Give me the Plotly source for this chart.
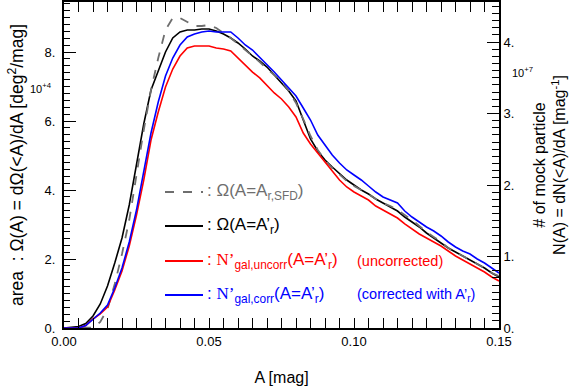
import plotly.graph_objects as go

# ---------------- data ----------------
A = [0.0, 0.0025, 0.005, 0.0075, 0.01, 0.0125, 0.015, 0.0175, 0.02, 0.0225,
     0.025, 0.0275, 0.03, 0.0325, 0.035, 0.0375, 0.04, 0.0425, 0.045, 0.0475,
     0.05, 0.0525, 0.055, 0.0575, 0.06, 0.0625, 0.065, 0.0675, 0.07, 0.0725,
     0.075, 0.0775, 0.08, 0.0825, 0.085, 0.0875, 0.09, 0.0925, 0.095, 0.0975,
     0.1, 0.1025, 0.105, 0.1075, 0.11, 0.1125, 0.115, 0.1175, 0.12, 0.1225,
     0.125, 0.1275, 0.13, 0.1325, 0.135, 0.1375, 0.14, 0.1425, 0.145, 0.1475, 0.15]

# area Omega(A = A_r,SFD)  [1e4 deg^2/mag]
omega_sfd = [0, 0, 0, 0, 0.014, 0.174, 0.551, 1.275, 2.145, 3.130,
             4.464, 5.739, 6.899, 7.826, 8.638, 8.986, 8.986, 8.870, 8.754, 8.754,
             8.783, 8.696, 8.551, 8.406, 8.232, 8.058, 7.884, 7.710, 7.507, 7.333,
             7.159, 6.870, 6.522, 6.058, 5.565, 5.159, 4.870, 4.638, 4.435, 4.261,
             4.116, 4.0, 3.884, 3.739, 3.623, 3.536, 3.420, 3.275, 3.130, 2.957,
             2.783, 2.638, 2.493, 2.319, 2.203, 2.087, 1.971, 1.855, 1.739, 1.594, 1.507]

# area Omega(A = A'_r)  [1e4 deg^2/mag]
omega_r = [0, 0.014, 0.043, 0.130, 0.348, 0.696, 1.217, 1.884, 2.609, 3.565,
           4.725, 5.913, 6.899, 7.478, 8.0, 8.406, 8.580, 8.638, 8.638, 8.667,
           8.667, 8.609, 8.522, 8.406, 8.261, 8.087, 7.884, 7.739, 7.565, 7.333,
           7.101, 6.870, 6.580, 6.0, 5.478, 5.130, 4.870, 4.667, 4.464, 4.290,
           4.145, 4.0, 3.884, 3.739, 3.623, 3.507, 3.391, 3.217, 3.072, 2.928,
           2.754, 2.609, 2.464, 2.319, 2.203, 2.087, 1.971, 1.855, 1.739, 1.594, 1.478]

# N'gal,uncorr(A = A'_r)  [1e7 /mag]
n_uncorr = [0, 0, 0, 0.035, 0.126, 0.196, 0.294, 0.531, 0.797, 1.147,
            1.580, 2.070, 2.629, 3.021, 3.371, 3.622, 3.804, 3.916, 3.944, 3.944,
            3.944, 3.916, 3.902, 3.874, 3.776, 3.664, 3.580, 3.497, 3.385, 3.287,
            3.203, 3.091, 2.951, 2.727, 2.573, 2.448, 2.308, 2.182, 2.070, 1.972,
            1.902, 1.846, 1.790, 1.706, 1.650, 1.594, 1.538, 1.455, 1.385, 1.315,
            1.259, 1.203, 1.147, 1.077, 1.007, 0.951, 0.895, 0.839, 0.783, 0.713, 0.657]

# N'gal,corr(A = A'_r)  [1e7 /mag]
n_corr = [0, 0, 0, 0.035, 0.126, 0.210, 0.322, 0.559, 0.839, 1.203,
          1.650, 2.168, 2.727, 3.161, 3.524, 3.776, 3.958, 4.070, 4.112, 4.140,
          4.154, 4.140, 4.140, 4.140, 4.056, 3.958, 3.888, 3.790, 3.692, 3.580,
          3.469, 3.357, 3.245, 3.077, 2.909, 2.699, 2.559, 2.420, 2.308, 2.210,
          2.140, 2.070, 1.986, 1.902, 1.832, 1.790, 1.748, 1.636, 1.552, 1.483,
          1.413, 1.357, 1.287, 1.203, 1.133, 1.077, 1.035, 0.965, 0.909, 0.839, 0.769]

# tick labels
x_tickvals = [0.0, 0.05, 0.10, 0.15]
x_ticktext = ["0.00", "0.05", "0.10", "0.15"]
x_midticks = [0.01, 0.02, 0.03, 0.04, 0.06, 0.07, 0.08, 0.09,
              0.11, 0.12, 0.13, 0.14]
yl_tickvals = [0, 2, 4, 6, 8]
yl_ticktext = ["0.", "2.", "4.", "6.", "8."]
yl_midticks = [1, 3, 5, 7, 9]
yr_tickvals = [0, 1, 2, 3, 4]
yr_ticktext = ["0.", "1.", "2.", "3.", "4."]
yr_midticks = [0.5, 1.5, 2.5, 3.5, 4.5]

# ---------------- figure ----------------
FONT = "Liberation Sans, Arial, sans-serif"
SERIF = "Liberation Serif, Times New Roman, serif"
GRAY = "#6e6e6e"
W, H = 580, 388
L, R, T, B = 64, 81, 2, 60
PW, PH = W - L - R, H - T - B
YL_MAX = PH / 34.5
YR_MAX = PH / 71.5


def px(x):
    return (x - L) / PW


def py(y):
    return (H - B - y) / PH


fig = go.Figure()
fig.add_trace(go.Scatter(x=A, y=omega_r, mode="lines", name="Omega(A=A'r)",
                         line=dict(color="black", width=1.6), yaxis="y"))
fig.add_trace(go.Scatter(x=A, y=n_uncorr, mode="lines", name="N'gal,uncorr",
                         line=dict(color="#ff0000", width=1.6), yaxis="y2"))
fig.add_trace(go.Scatter(x=A, y=n_corr, mode="lines", name="N'gal,corr",
                         line=dict(color="#0000ff", width=1.6), yaxis="y2"))
fig.add_trace(go.Scatter(x=A, y=omega_sfd, mode="lines", name="Omega(A=Ar,SFD)",
                         line=dict(color=GRAY, width=1.8, dash="dash"), yaxis="y"))

common = dict(showgrid=False, zeroline=False, showline=True, linecolor="black",
              linewidth=2, ticks="inside", tickcolor="black", tickwidth=1,
              tickmode="array", automargin=False,
              tickfont=dict(family=FONT, size=13, color="black"))
mid = dict(showgrid=False, zeroline=False, showline=False, ticks="inside",
           tickcolor="black", tickwidth=1, tickmode="array",
           showticklabels=False, automargin=False)

fig.update_layout(
    width=W, height=H, margin=dict(l=L, r=R, t=T, b=B),
    paper_bgcolor="white", plot_bgcolor="white", showlegend=False,
    font=dict(family=FONT, color="black"),
    xaxis=dict(range=[0, 0.15], tickvals=x_tickvals, ticktext=x_ticktext,
               ticklen=10, mirror="allticks",
               minor=dict(tick0=0, dtick=0.005, ticklen=5, ticks="inside",
                          tickcolor="black", tickwidth=1),
               title=dict(text="A [mag]", font=dict(size=16), standoff=24),
               **common),
    xaxis2=dict(range=[0, 0.15], overlaying="x", anchor="y", side="bottom",
                tickvals=x_midticks, ticklen=9, mirror="allticks", **mid),
    yaxis=dict(range=[0, YL_MAX], tickvals=yl_tickvals, ticktext=yl_ticktext,
               ticklen=12, ticklabelstandoff=4,
               minor=dict(tick0=0, dtick=0.2, ticklen=6, ticks="inside",
                          tickcolor="black", tickwidth=1),
               title=dict(text="area  : Ω(A) = dΩ(<A)/dA [deg<sup>2</sup>/mag]",
                          font=dict(size=17.5), standoff=16),
               **common),
    yaxis3=dict(range=[0, YL_MAX], overlaying="y", anchor="x", side="left",
                tickvals=yl_midticks, ticklen=12, **mid),
    yaxis2=dict(range=[0, YR_MAX], tickvals=yr_tickvals, ticktext=yr_ticktext,
                overlaying="y", side="right", anchor="x", ticklen=12,
                minor=dict(tick0=0, dtick=0.1, ticklen=7, ticks="inside",
                           tickcolor="black", tickwidth=1),
                title=dict(text="# of mock particle<br>N(A) = dN(<A)/dA [mag<sup>-1</sup>]",
                           font=dict(size=16), standoff=20),
                **common),
    yaxis4=dict(range=[0, YR_MAX], overlaying="y", anchor="x", side="right",
                tickvals=yr_midticks, ticklen=10, **mid),
)

# exponent labels
fig.add_annotation(x=px(28), y=py(88), xref="paper", yref="paper", xanchor="left",
                   yanchor="middle", showarrow=False, text="10<sup>+4</sup>",
                   font=dict(size=11, family=FONT))
fig.add_annotation(x=px(510), y=py(72), xref="paper", yref="paper", xanchor="left",
                   yanchor="middle", showarrow=False, text="10<sup>+7</sup>",
                   font=dict(size=11, family=FONT))

# legend (drawn manually)
legend_rows = [
    (192, GRAY, "dash", ": Ω(A=A<sub>r,SFD</sub>)", None),
    (226, "black", "solid", ": Ω(A=A’<sub>r</sub>)", None),
    (261, "#ff0000", "solid",
     f": <span style='font-family:{SERIF}'>N’</span><sub>gal,uncorr</sub>(A=A’<sub>r</sub>)",
     "(uncorrected)"),
    (295, "#0000ff", "solid",
     f": <span style='font-family:{SERIF}'>N’</span><sub>gal,corr</sub>(A=A’<sub>r</sub>)",
     "(corrected with A’<sub>r</sub>)"),
]
for yy, col, dash, txt, extra in legend_rows:
    fig.add_shape(type="line", xref="paper", yref="paper",
                  x0=px(165), x1=px(203), y0=py(yy), y1=py(yy),
                  line=dict(color=col, width=1.8, dash=dash))
    fig.add_annotation(x=px(205), y=py(yy), xref="paper", yref="paper",
                       xanchor="left", yanchor="middle", showarrow=False,
                       text=txt, font=dict(size=17, color=col, family=FONT))
    if extra:
        fig.add_annotation(x=px(355), y=py(yy), xref="paper", yref="paper",
                           xanchor="left", yanchor="middle", showarrow=False,
                           text=extra, font=dict(size=14.5, color=col, family=FONT))

fig.write_html("out.html", config={"displayModeBar": False},
               post_script="document.body.style.margin='0px';")
